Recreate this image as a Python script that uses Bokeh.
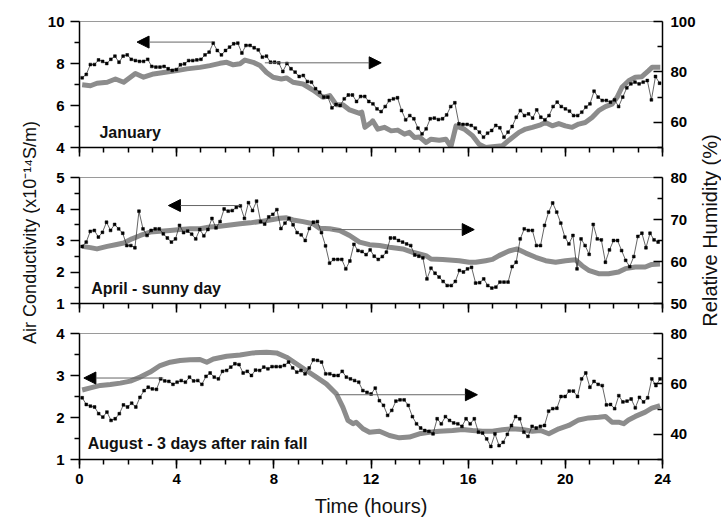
import numpy as np
from bokeh.plotting import figure
from bokeh.models import Range1d, LinearAxis, FixedTicker, Arrow, NormalHead, Label
from bokeh.layouts import column, row
from bokeh.embed import file_html
from bokeh.resources import INLINE
from bokeh.core.properties import value

FONT = "Liberation Sans"

# ---------------- January ----------------
jan_span = (0.11, 23.88)  # first / last sample time (h), 10-min logging
jan_cond = [7.32, 7.48, 7.95, 7.95, 8.17, 8.10, 8.00, 8.20, 8.35, 8.06,
            8.35, 8.41, 8.20, 8.14, 8.10, 8.10, 8.20, 7.86, 7.83, 7.83,
            7.86, 7.75, 7.67, 7.71, 7.94, 7.98, 8.14, 8.14, 8.17, 8.20,
            8.41, 8.54, 8.97, 8.62, 8.41, 8.62, 8.78, 8.94, 8.97, 8.50,
            8.86, 8.86, 8.75, 8.65, 8.30, 8.35, 8.06, 8.06, 8.03, 7.62,
            8.00, 7.75, 7.59, 7.38, 7.43, 7.14, 7.11, 6.80, 6.63, 6.40,
            6.40, 5.89, 6.05, 6.00, 6.32, 6.50, 6.50, 6.19, 6.43, 6.43,
            6.19, 6.08, 5.84, 5.71,
            5.95, 6.24, 6.32, 6.37, 5.76, 5.32, 5.52, 5.37, 4.92, 4.65,
            4.89, 5.37, 5.40, 5.33, 5.37, 5.55, 5.95, 6.13, 5.13, 5.10,
            5.10, 5.05, 4.92, 4.73, 4.49, 4.68, 4.81, 5.05, 4.94, 4.49,
            4.73, 5.00, 5.44, 5.76, 5.52, 5.60, 5.40, 5.79, 5.44, 5.32,
            5.52, 5.95, 6.16, 5.95, 5.84, 5.73, 5.52, 5.52, 5.68, 5.92,
            6.08, 6.68, 6.40, 6.24, 6.24, 6.16, 6.27, 5.95, 6.40, 6.84,
            7.03, 7.11, 7.03, 7.11, 7.19, 6.27, 7.38, 7.06]
jan_rh_t = [0.11, 0.45, 0.72, 1.14, 1.48, 1.82, 2.30, 2.64, 3.05, 3.46,
            4.01, 4.42, 4.96, 5.37, 5.78, 6.06, 6.33, 6.61, 6.81, 7.15,
            7.43, 7.70, 7.97, 8.31, 8.52, 8.79, 9.20, 9.61, 10.02, 10.30,
            10.57, 10.84, 11.12, 11.53, 11.62, 11.75, 12.01, 12.07, 12.28, 12.55,
            12.83, 13.10, 13.38, 13.58, 13.79, 13.99, 14.27, 14.47, 14.81, 15.08,
            15.29, 15.50, 15.84, 16.19, 16.45, 16.72, 17.00, 17.41, 17.68, 18.09,
            18.36, 18.64, 18.98, 19.18, 19.46, 19.73, 20.00, 20.28, 20.55, 20.82,
            21.10, 21.37, 21.65, 21.92, 22.13, 22.33, 22.61, 22.88, 23.15, 23.43,
            23.57, 23.91]
jan_rh = [74.9, 74.5, 75.5, 75.9, 77.2, 75.9, 79.4, 77.9, 79.2, 79.8,
          80.5, 81.2, 81.8, 82.5, 83.4, 83.8, 82.8, 83.2, 84.7, 83.8,
          82.5, 79.8, 77.9, 77.2, 77.6, 75.9, 75.2, 72.8, 69.9, 70.6,
          67.0, 67.0, 64.9, 63.5, 64.0, 58.0, 59.9, 60.6, 57.3, 58.0,
          56.6, 56.9, 55.3, 56.0, 54.0, 54.2, 52.0, 53.3, 52.9, 53.3,
          50.3, 58.6, 57.3, 54.6, 51.3, 50.0, 50.3, 50.7, 52.9, 56.0,
          57.3, 58.0, 59.0, 59.9, 58.6, 59.5, 58.6, 58.0, 59.3, 59.9,
          61.9, 64.6, 66.2, 67.2, 69.9, 73.9, 76.5, 77.9, 78.1, 80.5,
          81.8, 81.8]

# ---------------- April ----------------
apr_span = (0.11, 23.82)
apr_cond = [2.81, 2.95, 3.29, 3.32, 3.11, 3.26, 3.58, 3.32, 3.51, 3.37,
            3.23, 2.84, 2.84, 2.77, 3.93, 3.37, 3.16, 3.32, 3.37, 3.37,
            3.21, 3.08, 2.95, 3.05, 3.48, 3.25, 3.30, 3.20, 3.05, 3.35,
            3.15, 3.35, 3.70, 3.40, 3.60, 4.00, 3.93, 3.95, 4.05, 4.10,
            3.70, 4.20, 3.95, 4.25, 3.60, 3.52, 3.75, 3.83, 3.98, 3.38,
            3.55, 3.70, 3.50, 3.25, 3.18, 3.00, 3.38, 3.58, 3.60, 3.25,
            2.83, 2.28, 2.40, 2.40, 2.40, 2.10, 2.35, 2.88, 2.68, 2.65,
            2.55, 2.70, 2.50, 2.40, 2.49, 2.63, 3.08, 3.08, 3.00, 2.95,
            2.89, 2.84, 2.54, 2.50, 2.45, 1.78, 2.12, 1.96, 1.84, 1.70,
            1.57, 1.57, 1.70, 2.05, 2.00, 2.10, 2.15, 1.65, 1.66, 1.78,
            1.57, 1.49, 1.52, 1.68, 1.68, 1.68, 2.17, 2.31, 3.05, 3.37,
            3.32, 3.32, 2.84, 2.84, 3.48, 3.90, 4.19, 3.90, 3.55, 3.11,
            2.89, 3.16, 2.10, 3.05, 2.84, 2.56, 3.51, 3.05, 3.02, 2.31,
            2.70, 3.00, 3.00, 2.68, 2.37, 2.17, 2.49, 3.13, 3.23, 2.77,
            3.23, 3.02, 2.95]
apr_rh_t = [0.11, 0.45, 0.72, 1.14, 1.48, 1.82, 2.16, 2.50, 2.91, 3.32,
            3.73, 4.14, 4.55, 4.96, 5.37, 5.78, 6.20, 6.61, 7.02, 7.43,
            7.84, 8.25, 8.52, 8.79, 9.20, 9.61, 9.89, 10.30, 10.71, 11.12,
            11.53, 11.94, 12.35, 12.76, 13.31, 13.72, 14.26, 14.47, 14.95, 15.63,
            16.04, 16.31, 16.72, 17.00, 17.27, 17.68, 18.02, 18.37, 18.78, 19.19,
            19.60, 20.01, 20.42, 20.69, 20.96, 21.37, 21.78, 22.19, 22.47, 22.88,
            23.29, 23.56, 23.90]
apr_rh = [63.6, 63.3, 63.0, 63.6, 64.0, 64.4, 65.4, 66.2, 67.0, 67.2,
          67.4, 67.6, 67.8, 67.8, 68.2, 68.4, 68.7, 69.0, 69.2, 69.5,
          69.9, 70.3, 70.4, 69.9, 69.5, 69.0, 67.9, 67.8, 67.4, 66.2,
          64.6, 64.0, 63.8, 63.4, 63.0, 62.2, 61.4, 60.6, 60.5, 60.2,
          59.8, 59.8, 60.2, 60.5, 61.4, 62.5, 63.0, 62.0, 61.0, 60.2,
          59.8, 60.2, 60.4, 59.0, 57.9, 57.1, 57.1, 57.5, 58.3, 58.7,
          58.7, 59.3, 59.4]

# ---------------- August ----------------
aug_span = (0.11, 23.90)
aug_cond = [2.47, 2.31, 2.27, 2.25, 2.09, 2.01, 2.13, 1.93, 1.97, 2.09,
            2.30, 2.25, 2.34, 2.25, 2.48, 2.64, 2.72, 2.68, 2.67, 2.92,
            2.87, 2.86, 2.79, 2.84, 2.88, 2.84, 2.96, 2.87, 2.88, 2.79,
            2.98, 3.06, 2.96, 2.92, 3.10, 3.12, 3.20, 3.28, 3.26, 3.06,
            3.10, 3.00, 3.13, 3.12, 3.20, 3.16, 3.21, 3.21, 3.21, 3.24,
            3.32, 3.18, 3.08, 3.12, 3.04, 3.18, 3.37, 3.36, 3.32, 3.04,
            3.04, 3.00, 3.00, 3.10, 2.96, 2.92, 2.88, 2.84, 2.64, 2.60,
            2.56, 2.70, 2.40,
            2.29, 2.05, 2.17, 2.39, 2.42, 2.42, 2.29, 2.02, 1.85, 1.75,
            1.69, 1.67, 1.61, 1.97, 1.85, 2.02, 1.93, 1.87, 1.85, 1.79,
            1.97, 1.85, 1.97, 1.65, 1.63, 1.49, 1.31, 1.61, 1.33, 1.41,
            1.60, 1.81, 2.02, 1.97, 1.65, 1.55, 1.79, 1.75, 1.79, 1.81,
            2.15, 2.21, 2.22, 2.50, 2.50, 2.63, 2.63, 2.50, 2.92, 3.06,
            2.72, 2.86, 2.79, 2.76, 2.30, 2.31, 2.21, 2.52, 2.37, 2.39,
            2.44, 2.23, 2.48, 2.37, 2.47, 2.92, 2.76, 2.92]
aug_rh_t = [0.11, 0.45, 0.86, 1.27, 1.68, 2.09, 2.50, 2.91, 3.32, 3.73,
            4.14, 4.55, 4.96, 5.24, 5.51, 6.06, 6.61, 7.15, 7.70, 8.11,
            8.52, 8.93, 9.34, 9.75, 10.16, 10.57, 10.84, 11.05, 11.26, 11.39,
            11.67, 11.94, 12.35, 12.76, 13.17, 13.58, 13.99, 14.40, 14.81, 15.36,
            15.77, 16.18, 16.59, 17.00, 17.41, 17.82, 18.23, 18.64, 18.98, 19.32,
            19.73, 20.14, 20.55, 20.96, 21.37, 21.65, 21.92, 22.19, 22.40, 22.60,
            22.88, 23.29, 23.56, 23.90]
aug_rh = [57.6, 58.4, 59.4, 59.8, 60.3, 61.1, 62.7, 64.7, 67.3, 68.6,
          69.3, 69.6, 69.7, 68.6, 69.9, 71.0, 71.5, 72.3, 72.6, 72.3,
          70.6, 68.0, 65.3, 62.7, 60.0, 56.1, 50.8, 45.5, 44.2, 44.8,
          42.2, 40.8, 41.2, 39.5, 38.6, 38.9, 40.2, 40.8, 41.2, 41.5,
          41.9, 41.5, 41.2, 41.2, 41.8, 42.2, 41.9, 41.2, 41.5, 40.2,
          42.2, 43.5, 45.7, 46.5, 46.8, 47.1, 44.8, 44.8, 44.2, 45.7,
          47.1, 48.8, 50.4, 51.4]

x_major = [0, 4, 8, 12, 16, 20, 24]
x_minor = list(range(25))

panels = [
    dict(name="January", cond=jan_cond, span=jan_span, rh_t=jan_rh_t, rh=jan_rh,
         yl=(4, 10), yl_major=[4, 6, 8, 10], yl_minor=[5, 7, 9],
         yr=(50, 100), yr_major=[60, 80, 100], yr_minor=[50, 70, 90],
         label_xy=(0.82, 4.73),
         arrow_l=(5.47, 2.37, 9.02), arrow_r=(7.63, 12.42, 83.6)),
    dict(name="April - sunny day", cond=apr_cond, span=apr_span, rh_t=apr_rh_t, rh=apr_rh,
         yl=(1, 5), yl_major=[1, 2, 3, 4, 5], yl_minor=[1.5, 2.5, 3.5, 4.5],
         yr=(50, 80), yr_major=[50, 60, 70, 80], yr_minor=[55, 65, 75],
         label_xy=(0.48, 1.47),
         arrow_l=(6.6, 3.66, 4.11), arrow_r=(10.4, 16.25, 67.6)),
    dict(name="August - 3 days after rain fall", cond=aug_cond, span=aug_span, rh_t=aug_rh_t, rh=aug_rh,
         yl=(1, 4), yl_major=[1, 2, 3, 4], yl_minor=[1.5, 2.5, 3.5],
         yr=(30, 80), yr_major=[40, 60, 80], yr_minor=[30, 50, 70],
         label_xy=(0.34, 1.37),
         arrow_l=(3.45, 0.18, 2.94), arrow_r=(10.57, 16.38, 55.7)),
]

heights = [167, 156, 199]
tops = [21, 10, 10]
bottoms = [20, 20, 63]
MAIN_W = 658
LEFT_W = 40
RIGHT_W = 721 - LEFT_W - MAIN_W

figs = []
for k, pd_ in enumerate(panels):
    last = k == len(panels) - 1
    p = figure(width=MAIN_W, height=heights[k], x_range=Range1d(0, 24),
               y_range=Range1d(*pd_["yl"]), output_backend="svg",
               toolbar_location=None, min_border_left=39, min_border_right=MAIN_W - 39 - 585,
               min_border_top=tops[k], min_border_bottom=bottoms[k])
    p.extra_y_ranges = {"rh": Range1d(*pd_["yr"])}
    p.xgrid.visible = False
    p.ygrid.visible = False
    p.outline_line_color = "#9a9a9a"
    p.outline_line_width = 1
    p.background_fill_color = "white"
    p.border_fill_color = "white"

    # bottom time axis
    xa = p.xaxis[0]
    xa.ticker = FixedTicker(ticks=x_major, minor_ticks=x_minor)
    xa.axis_line_color = "black"
    xa.axis_line_width = 1.5
    xa.major_tick_line_color = "black"
    xa.major_tick_line_width = 1.5
    xa.minor_tick_line_color = "black"
    xa.minor_tick_line_width = 1.5
    xa.major_tick_in = 0
    xa.major_tick_out = 9
    xa.minor_tick_in = 0
    xa.minor_tick_out = 5
    if last:
        xa.major_label_text_font = FONT
        xa.major_label_text_font_style = "bold"
        xa.major_label_text_font_size = "15px"
        xa.major_label_text_color = "black"
        xa.major_label_standoff = 5
        xa.axis_label = "Time (hours)"
        xa.axis_label_text_font = FONT
        xa.axis_label_text_font_style = "normal"
        xa.axis_label_text_font_size = "20px"
        xa.axis_label_text_color = "#111111"
        xa.axis_label_standoff = 8
    else:
        # ticks only, the shared time labels sit under the last panel
        xa.major_label_text_color = None
        xa.major_label_text_font_size = "1px"
        xa.major_label_standoff = 0

    # left conductivity axis
    ya = p.yaxis[0]
    ya.ticker = FixedTicker(ticks=pd_["yl_major"], minor_ticks=pd_["yl_minor"])
    ya.axis_line_color = "black"
    ya.axis_line_width = 1.5
    ya.major_tick_line_width = 1.5
    ya.minor_tick_line_width = 1.5
    ya.major_tick_in = 0
    ya.major_tick_out = 9
    ya.minor_tick_in = 0
    ya.minor_tick_out = 5
    ya.major_label_text_font = FONT
    ya.major_label_text_font_style = "bold"
    ya.major_label_text_font_size = "15px"
    ya.major_label_text_color = "black"
    ya.major_label_standoff = 6

    # right humidity axis
    ra = LinearAxis(y_range_name="rh",
                    ticker=FixedTicker(ticks=pd_["yr_major"], minor_ticks=pd_["yr_minor"]))
    ra.axis_line_color = "black"
    ra.axis_line_width = 1.5
    ra.major_tick_line_width = 1.5
    ra.minor_tick_line_width = 1.5
    ra.major_tick_in = 9
    ra.major_tick_out = 0
    ra.minor_tick_in = 5
    ra.minor_tick_out = 0
    ra.major_label_text_font = FONT
    ra.major_label_text_font_style = "bold"
    ra.major_label_text_font_size = "15px"
    ra.major_label_text_color = "black"
    ra.major_label_standoff = 8
    p.add_layout(ra, "right")

    # relative humidity: thick grey line
    p.line(pd_["rh_t"], pd_["rh"], y_range_name="rh", line_color="#8c8c8c",
           line_width=5, line_join="round")

    # air conductivity: thin black line with small square markers
    t = np.linspace(pd_["span"][0], pd_["span"][1], len(pd_["cond"]))
    p.line(t, pd_["cond"], line_color="#222222", line_width=0.7)
    p.scatter(t, pd_["cond"], marker="square", size=2.8, fill_color="black",
              line_color="black", line_width=0.5)

    # arrows pointing to the axis each curve belongs to
    x0, x1, yv = pd_["arrow_l"]
    p.add_layout(Arrow(x_start=x0, x_end=x1, y_start=yv, y_end=yv,
                       line_color="#666666", line_width=1,
                       end=NormalHead(size=12, fill_color="black", line_color="black")))
    x0, x1, yv = pd_["arrow_r"]
    p.add_layout(Arrow(x_start=x0, x_end=x1, y_start=yv, y_end=yv, y_range_name="rh",
                       line_color="#666666", line_width=1,
                       end=NormalHead(size=12, fill_color="black", line_color="black")))

    lx, ly = pd_["label_xy"]
    p.add_layout(Label(x=lx, y=ly, text=pd_["name"], text_font=FONT,
                       text_font_style="bold", text_font_size="16px",
                       text_color="#111111", text_baseline="alphabetic"))
    figs.append(p)


def side_strip(width, label, cx, cy, size):
    """A narrow canvas holding one vertical title, in pixel coordinates."""
    s = figure(width=width, height=522, x_range=Range1d(0, width), y_range=Range1d(0, 522),
               output_backend="svg", toolbar_location=None,
               x_axis_location=None, y_axis_location=None,
               min_border=0, min_border_left=0, min_border_right=0,
               min_border_top=0, min_border_bottom=0)
    s.xgrid.visible = False
    s.ygrid.visible = False
    s.outline_line_color = None
    s.text(x=[cx], y=[cy], text=[label], angle=np.pi / 2, text_align="center",
           text_baseline="middle", text_font=value(FONT), text_font_size=size,
           text_color="#111111")
    return s


left = side_strip(LEFT_W, "Air Conductivity (x10\u207b\u00b9\u2074S/m)", 29, 290, "18px")
right = side_strip(RIGHT_W, "Relative Humidity (%)", 11.5, 292, "20px")

layout = row(left, column(*figs, spacing=0), right, spacing=0)

with open("out.html", "w") as f:
    f.write(file_html(layout, INLINE))
